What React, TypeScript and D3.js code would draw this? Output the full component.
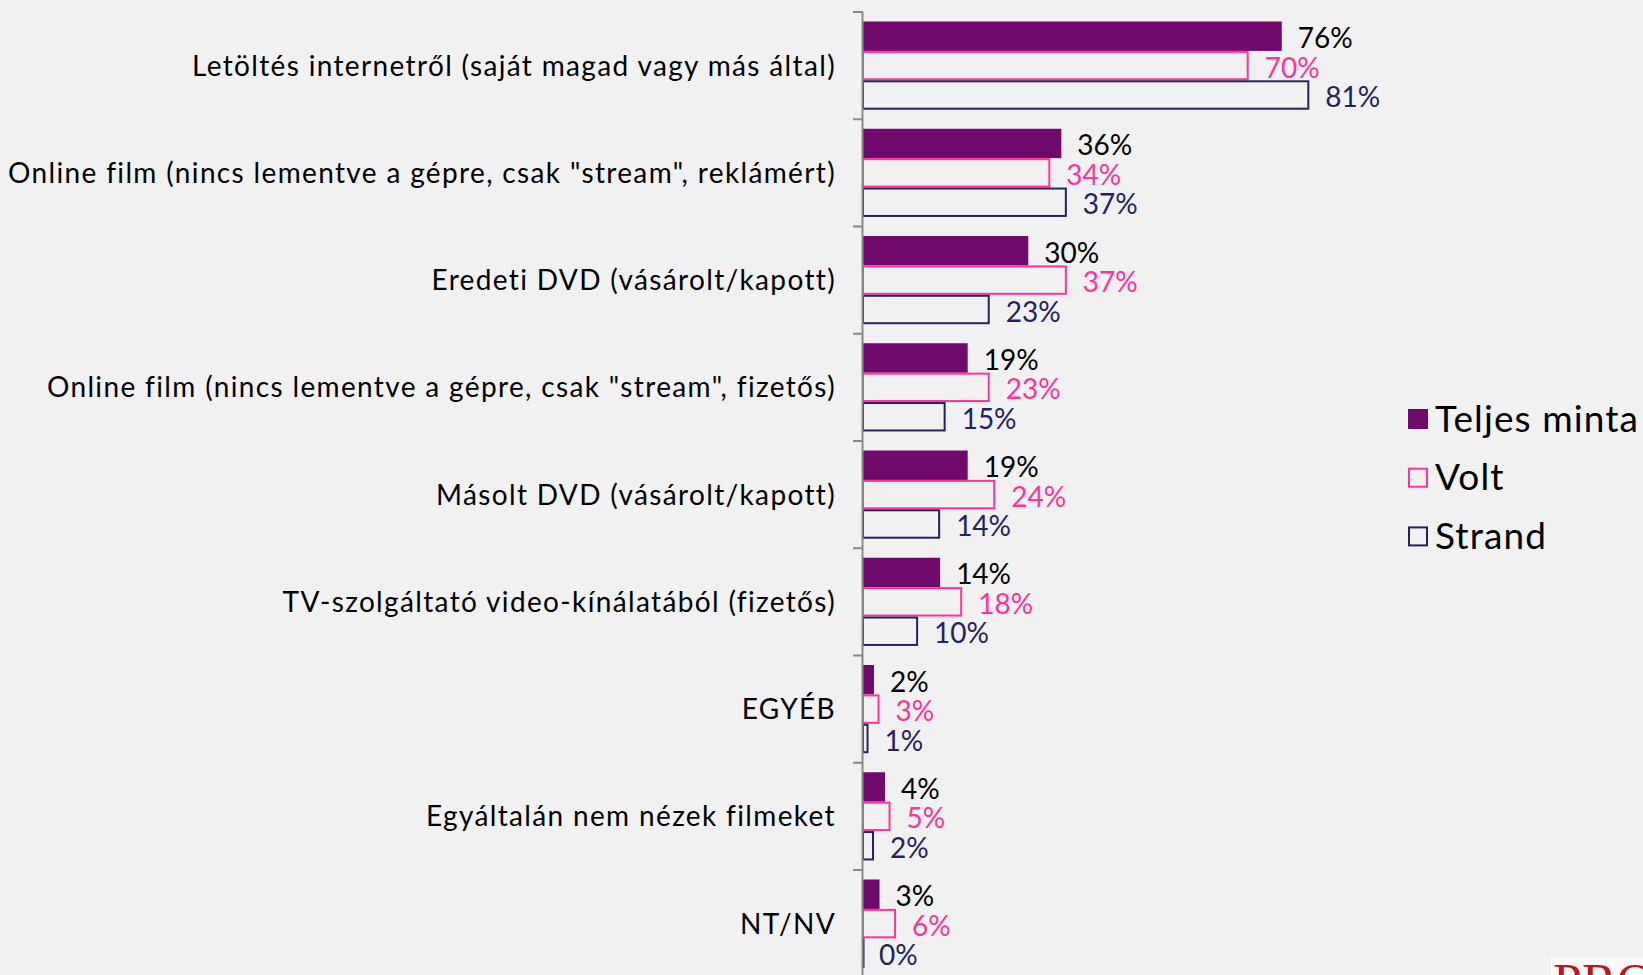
import React from "react";
import * as d3 from "d3";

const categories = [
  "Letöltés internetről (saját magad vagy más által)",
  "Online film (nincs lementve a gépre, csak \"stream\", reklámért)",
  "Eredeti DVD (vásárolt/kapott)",
  "Online film (nincs lementve a gépre, csak \"stream\", fizetős)",
  "Másolt DVD (vásárolt/kapott)",
  "TV-szolgáltató video-kínálatából (fizetős)",
  "EGYÉB",
  "Egyáltalán nem nézek filmeket",
  "NT/NV",
];
const seriesNames = ["Teljes minta", "Volt", "Strand"];
const teljes = [76, 36, 30, 19, 19, 14, 2, 4, 3];
const volt = [70, 34, 37, 23, 24, 18, 3, 5, 6];
const strand = [81, 37, 23, 15, 14, 10, 1, 2, 0];

const W = 1643;
const H = 975;
const BG = "#F1F1F1";
const PURPLE = "#700A6C";
const PINK = "#FF3399";
const NAVY = "#25235F";
const FONT = "Lato, 'Open Sans', sans-serif";

export default function App() {
  const seriesData = [teljes, volt, strand];
  const x0 = 863;
  const x = d3.scaleLinear().domain([0, 100]).range([x0, x0 + 551]);
  const y = d3.scaleBand<string>().domain(categories).range([12, 12 + 9 * 107.25]).padding(0);
  const ys = d3.scaleBand<string>().domain(seriesNames).range([9.5, 97.7]).padding(0);
  const fills = [PURPLE, BG, BG];
  const strokes = [PURPLE, PINK, NAVY];
  const labelColors = ["#000000", PINK, NAVY];

  const ticks = [...categories.map((c) => y(c) as number), 12 + 9 * 107.25];

  return (
    <svg
      width={W}
      height={H}
      style={{ position: "absolute", left: 0, top: 0, display: "block" }}
    >
      <rect x={0} y={0} width={W} height={H} fill={BG} />
      {categories.map((c, i) => (
        <g key={c} transform={`translate(0,${y(c)})`}>
          {seriesNames.map((s, k) => {
            const v = seriesData[k][i];
            const by = ys(s) as number;
            const bh = ys.bandwidth();
            const w = x(v) - x0;
            return (
              <g key={s}>
                {k === 0 ? (
                  <rect x={x0} y={by} width={Math.max(w, 0)} height={bh} fill={PURPLE} />
                ) : (
                  <rect
                    x={x0}
                    y={by + 1}
                    width={Math.max(w - 1, 0.5)}
                    height={bh - 2}
                    fill={fills[k]}
                    stroke={strokes[k]}
                    strokeWidth={2}
                  />
                )}
                <text
                  x={x(v) + 16}
                  y={by + bh / 2 + 1}
                  dominantBaseline="central"
                  fontFamily={FONT}
                  fontSize={28}
                  fill={labelColors[k]}
                >
                  {`${v}%`}
                </text>
              </g>
            );
          })}
          <text
            x={836}
            y={y.bandwidth() / 2 - 1}
            textAnchor="end"
            dominantBaseline="central"
            fontFamily={FONT}
            fontSize={28}
            letterSpacing={1.35}
            fill="#000"
          >
            {c}
          </text>
        </g>
      ))}
      <line x1={862.5} x2={862.5} y1={12} y2={H + 5} stroke="#898989" strokeWidth={2} />
      {ticks.map((t, i) => (
        <line key={i} x1={853} x2={863} y1={t} y2={t} stroke="#898989" strokeWidth={2} />
      ))}
      {seriesNames.map((s, k) => {
        const cy = 419 + k * 58.7;
        return (
          <g key={s}>
            {k === 0 ? (
              <rect x={1408} y={cy - 10} width={20} height={20} fill={PURPLE} />
            ) : (
              <rect
                x={1409}
                y={cy - 9}
                width={18}
                height={18}
                fill={BG}
                stroke={strokes[k]}
                strokeWidth={2}
              />
            )}
            <text
              x={1435}
              y={cy - 2}
              dominantBaseline="central"
              fontFamily={FONT}
              fontSize={37}
              letterSpacing={1.1}
              fill="#000"
            >
              {s}
            </text>
          </g>
        );
      })}
      <rect x={1551} y={957} width={92} height={18} fill="#FAFAFA" />
      <text
        x={1553}
        y={1000}
        fontFamily="'Liberation Serif', serif"
        fontSize={52}
        fill="#C8101E"
      >
        PRO
      </text>
    </svg>
  );
}
